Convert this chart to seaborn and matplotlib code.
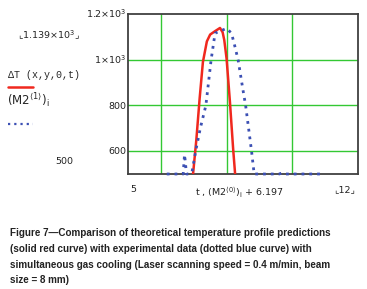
import numpy as np
import pandas as pd
import matplotlib
matplotlib.use("Agg")
import matplotlib.pyplot as plt
import seaborn as sns

# theoretical curve (solid red)
t_red = [6.98, 7.08, 7.18, 7.28, 7.40, 7.50, 7.65, 7.80, 7.88, 7.93, 8.00, 8.10, 8.20, 8.26]
dT_red = [500, 650, 830, 990, 1080, 1110, 1125, 1139, 1120, 1086, 1005, 820, 610, 500]

# experimental curve (dotted blue)
t_blue = [6.18, 6.40, 6.68, 6.72, 6.74, 6.78, 6.86, 6.95, 7.06, 7.20, 7.37, 7.53, 7.65,
          7.80, 8.00, 8.15, 8.25, 8.35, 8.50, 8.58, 8.76, 8.84, 9.20, 9.60, 9.70, 9.80, 10.30, 10.90]
dT_blue = [500, 500, 500, 585, 560, 500, 500, 510, 600, 700, 800, 1000, 1116,
           1125, 1137, 1116, 1060, 1000, 867, 800, 600, 500, 500, 500, 505, 500, 500, 500]

caption = ("Figure 7\u2014Comparison of theoretical temperature profile predictions\n"
           "(solid red curve) with experimental data (dotted blue curve) with\n"
           "simultaneous gas cooling (Laser scanning speed = 0.4 m/min, beam\n"
           "size = 8 mm)")

red = pd.DataFrame({"t": t_red, "T": dT_red})
blue = pd.DataFrame({"t": t_blue, "T": dT_blue})

sns.set_style("white")
plt.rcParams["font.family"] = ["DejaVu Sans"]

W, H = 367, 289
fig = plt.figure(figsize=(W / 100, H / 100), dpi=100)
ax = fig.add_axes([128 / W, 1 - 174 / H, 230 / W, 160 / H])

sns.lineplot(data=red, x="t", y="T", ax=ax, color="#f0281e", linewidth=1.8, sort=False, zorder=4)
sns.lineplot(data=blue, x="t", y="T", ax=ax, color="#3c50b4", linewidth=2.0,
             linestyle=(0, (1, 1.8)), sort=False, zorder=5, clip_on=False)

ax.set_xlim(5, 12)
ax.set_ylim(500, 1200)
ax.set_xticks([6, 8, 10])
ax.set_yticks([600, 800, 1000])
ax.grid(True, color="#33c833", linewidth=1.0)
ax.tick_params(length=0, labelbottom=False, labelleft=False)
ax.set_xlabel("")
ax.set_ylabel("")
for s in ax.spines.values():
    s.set_color("#404040")
    s.set_linewidth(1.3)


def ftext(x, y, s, **kw):
    fig.text(x / W, 1 - y / H, s, **kw)


tk = dict(fontsize=6.8, color="#222222", va="center")
ftext(126, 14, r"1.2$\times$10$^3$", ha="right", **tk)
ftext(126, 60, r"1$\times$10$^3$", ha="right", **tk)
ftext(126, 106, "800", ha="right", **tk)
ftext(126, 152, "600", ha="right", **tk)
ftext(55, 162, "500", ha="left", **tk)
ftext(18, 35, "\u231e" + r"1.139$\times$10$^3$" + "\u231f", ha="left", **tk)
ftext(130, 190, "5", ha="left", **tk)
ftext(334, 190, "\u231e12\u231f", ha="left", **tk)
ftext(195, 193, r"t , $\left(\mathrm{M2}^{\langle 0\rangle}\right)_{\mathrm{i}}$ + 6.197",
      ha="left", **tk)

ftext(8, 75, "\u0394T (x,y,0,t)", ha="left", fontsize=7.2, family="Liberation Mono", va="center")
ftext(7, 101, r"$\left(\mathrm{M2}^{\langle 1\rangle}\right)_{\mathrm{i}}$", ha="left",
      fontsize=8.5, va="center")
fig.add_artist(plt.Line2D([8 / W, 33 / W], [1 - 87 / H, 1 - 87 / H], color="#f0281e", linewidth=1.8))
fig.add_artist(plt.Line2D([8 / W, 33 / W], [1 - 124 / H, 1 - 124 / H], color="#3c50b4",
                          linewidth=1.6, linestyle=(0, (1, 1.8))))

ftext(10, 228, caption, ha="left", va="top", fontsize=7.1, fontweight="bold",
      family=["Liberation Sans Narrow", "Liberation Sans"], linespacing=1.72, color="#222222")

fig.savefig("out.png", dpi=100)
